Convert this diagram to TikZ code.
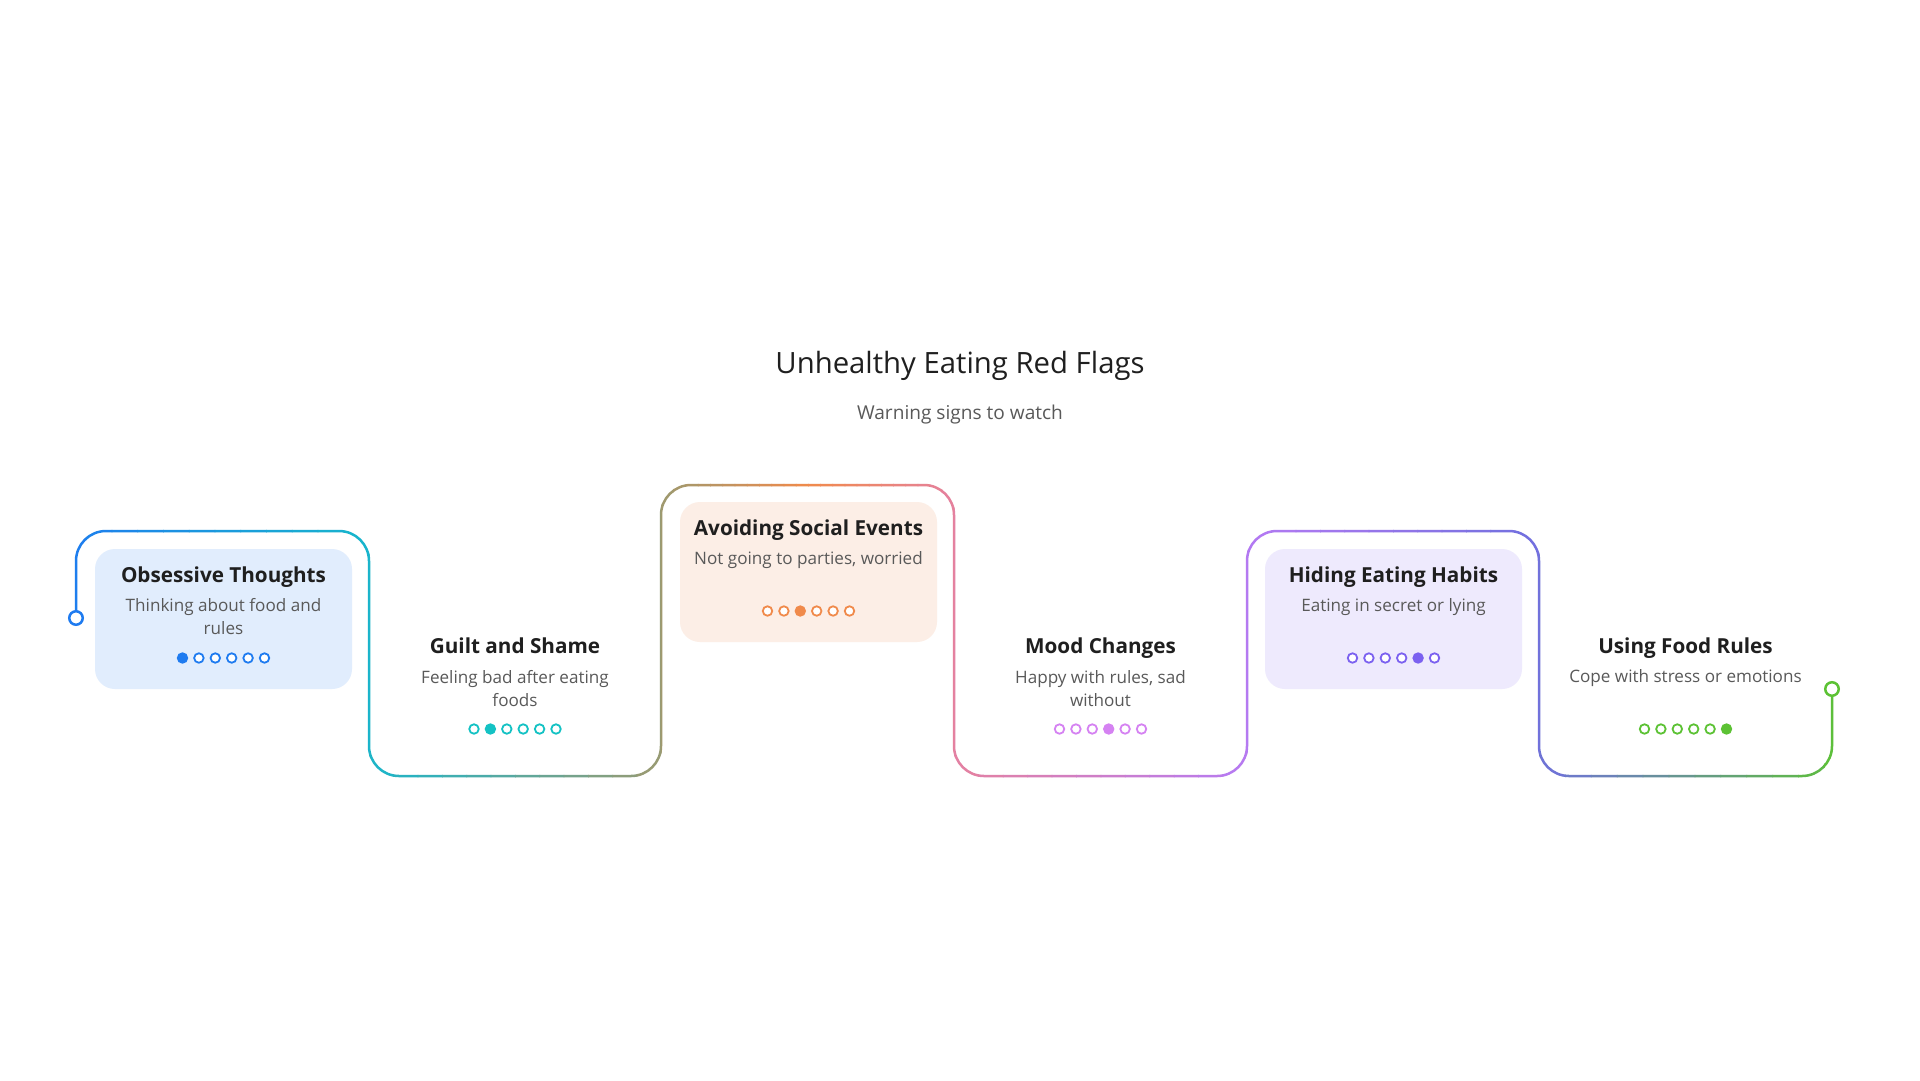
\documentclass[tikz,border=0pt]{standalone}
\usepackage{fontspec}
\setmainfont{Open Sans}
\usetikzlibrary{positioning}

\definecolor{ink}{HTML}{1F1F1F}
\definecolor{sub}{HTML}{595959}
\definecolor{cBlue}{HTML}{1E7BF0}
\definecolor{cTeal}{HTML}{14C2C4}
\definecolor{cOrange}{HTML}{F08A4B}
\definecolor{cOrchid}{HTML}{D582F2}
\definecolor{cPurple}{HTML}{7B61F0}
\definecolor{cGreen}{HTML}{5CC234}
\definecolor{cCyan}{HTML}{18B6CC}
\definecolor{cOlive}{HTML}{9C9A70}
\definecolor{cPink}{HTML}{E5819F}
\definecolor{cViolet}{HTML}{B57AF3}
\definecolor{cIndigo}{HTML}{7070DE}
\definecolor{fillBlue}{HTML}{E1EDFD}
\definecolor{fillOrange}{HTML}{FCEEE6}
\definecolor{fillPurple}{HTML}{EEEAFD}

\tikzset{
  trail/.style={line width=2.5pt, rounded corners=30pt},
  card/.style={rounded corners=20pt, minimum width=257pt, minimum height=140pt, inner sep=0pt},
  ttl/.style={font=\bfseries\fontsize{20.7}{24}\selectfont, text=ink, anchor=base},
  dsc/.style={font=\fontsize{17.1}{23}\selectfont, text=sub, align=center, anchor=base},
  dotnode/.style={circle, line width=1.8pt, minimum size=9.5pt, inner sep=0pt},
  endnode/.style={circle, line width=2.5pt, minimum size=13.5pt, inner sep=0pt, fill=white}
}

\newcommand\trailpart[4]{%
  \foreach \i in {0,...,11}{%
    \pgfmathsetmacro\xa{#1+(#2-#1)*\i/12}
    \pgfmathsetmacro\xb{#1+(#2-#1)*(\i+1)/12+0.8}
    \pgfmathtruncatemacro\pp{100-(\i+0.5)*100/12}
    \begin{scope}
      \clip (\xa,440) rectangle (\xb,820);
      \draw[trail, draw=#3!\pp!#4] \trailpath;
    \end{scope}}}

\newcommand\dotrow[4]{%
  \foreach \j in {0,...,5}{%
    \ifnum\j=#4 \def\fc{#3}\else\def\fc{white}\fi
    \node[dotnode, draw=#3, fill=\fc] at (#1-41+16.4*\j,#2) {};}}

\begin{document}
\begin{tikzpicture}[x=1pt,y=-1pt]
\useasboundingbox[fill=white] (0,0) rectangle (1920,1080);

\node[font=\fontsize{29.3}{33}\selectfont, text=ink, anchor=base] (title) at (960,373) {Unhealthy Eating Red Flags};
\node[font=\fontsize{19.1}{22}\selectfont, text=sub, anchor=base] (subtitle) at (960,419) {Warning signs to watch};

\coordinate (st) at (76,618);
\coordinate (en) at (1832,689);
\def\trailpath{(st) -- (76,531) -- (369,531) -- (369,776) -- (661,776) -- (661,485) -- (954,485) -- (954,776) -- (1247,776) -- (1247,531) -- (1539,531) -- (1539,776) -- (1832,776) -- (en)}

\trailpart{60}{369}{cBlue}{cCyan}
\trailpart{369}{661}{cCyan}{cOlive}
\trailpart{661}{808}{cOlive}{cOrange}
\trailpart{808}{954}{cOrange}{cPink}
\trailpart{954}{1247}{cPink}{cViolet}
\trailpart{1247}{1539}{cViolet}{cIndigo}
\trailpart{1539}{1850}{cIndigo}{cGreen}

\node[endnode, draw=cBlue] (stdot) at (st) {};
\node[endnode, draw=cGreen] (endot) at (en) {};

\node[card, fill=fillBlue] (card1) at (223.5,619) {};
\node[card, fill=fillOrange] (card3) at (808.5,572) {};
\node[card, fill=fillPurple] (card5) at (1393.5,619) {};

\node[ttl] (t1) at ([yshift=-34pt]card1.north) {Obsessive Thoughts};
\node[dsc] (d1) at ([yshift=-86pt]card1.north) {Thinking about food and\\rules};
\dotrow{223.5}{658}{cBlue}{0}

\node[ttl] (t2) at (515,653) {Guilt and Shame};
\node[dsc] (d2) at (515,706) {Feeling bad after eating\\foods};
\dotrow{515}{729}{cTeal}{1}

\node[ttl] (t3) at ([yshift=-34pt]card3.north) {Avoiding Social Events};
\node[dsc] (d3) at ([yshift=-63pt]card3.north) {Not going to parties, worried};
\dotrow{808.5}{611}{cOrange}{2}

\node[ttl] (t4) at (1100.5,653) {Mood Changes};
\node[dsc] (d4) at (1100.5,706) {Happy with rules, sad\\without};
\dotrow{1100.5}{729}{cOrchid}{3}

\node[ttl] (t5) at ([yshift=-34pt]card5.north) {Hiding Eating Habits};
\node[dsc] (d5) at ([yshift=-63pt]card5.north) {Eating in secret or lying};
\dotrow{1393.5}{658}{cPurple}{4}

\node[ttl] (t6) at (1685.5,653) {Using Food Rules};
\node[dsc] (d6) at (1685.5,682) {Cope with stress or emotions};
\dotrow{1685.5}{729}{cGreen}{5}
\end{tikzpicture}
\end{document}
